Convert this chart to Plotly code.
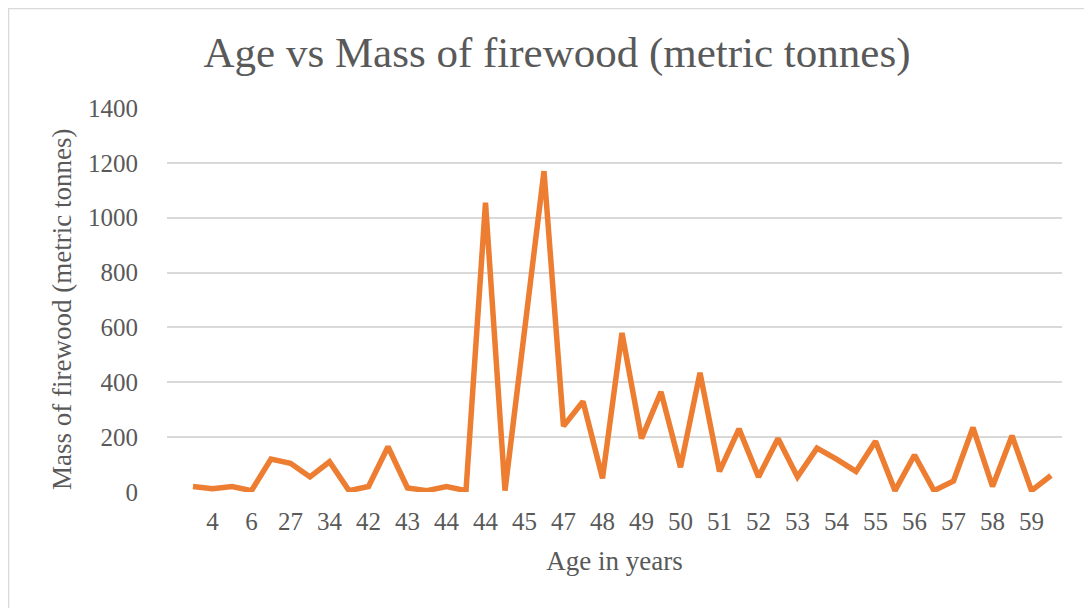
import plotly.graph_objects as go

# Categories (age in years) - every other label is displayed on the axis
ages = [3, 4, 5, 6, 20, 27, 30, 34, 40, 42, 42, 43, 43, 44, 44,
        44, 45, 45, 46, 47, 47, 48, 48, 49, 49, 50, 50, 51, 51, 52,
        52, 53, 53, 54, 54, 55, 55, 56, 56, 57, 57, 58, 58, 59, 59]

# Mass of firewood (metric tonnes)
mass = [20, 12, 20, 5, 120, 105, 55, 110, 5, 20, 165, 15, 5, 20, 5,
        1055, 5, 580, 1170, 240, 330, 50, 580, 195, 365, 90, 435, 75, 230, 55,
        195, 55, 160, 120, 75, 185, 5, 135, 5, 40, 235, 20, 205, 5, 60]

y_ticks = [0, 200, 400, 600, 800, 1000, 1200, 1400]

idx = list(range(len(ages)))
tickvals = idx[1::2]
ticktext = [str(a) for a in ages[1::2]]

FONT = "Liberation Serif, Times New Roman, serif"
GREY = "#595959"

fig = go.Figure()
fig.add_trace(go.Scatter(
    x=idx, y=mass, mode="lines",
    line=dict(color="#ED7D31", width=5.5),
    hoverinfo="y", showlegend=False,
))

OFF = 8  # page body margin
W, H = 1092 - OFF, 608 - OFF
L, R, T, B = 167 - OFF, 30, 108 - OFF, 116
pw, ph = W - L - R, H - T - B

def px2paper_x(px):
    return (px - OFF - L) / pw

def px2paper_y(py):
    return (H - B - (py - OFF)) / ph

x0_px = 193  # first point screen x
step = 19.5

fig.update_layout(
    width=W, height=H,
    margin=dict(l=L, r=R, t=T, b=B),
    paper_bgcolor="white", plot_bgcolor="white",
    font=dict(family=FONT, color=GREY),
    title=dict(
        text="Age vs Mass of firewood (metric tonnes)",
        font=dict(family=FONT, size=43, color=GREY),
        x=(557 - OFF) / W, xanchor="center", xref="container",
        y=1 - (52 - OFF) / H, yanchor="middle", yref="container",
    ),
    xaxis=dict(
        range=[(167 - x0_px) / step, (1062 - x0_px) / step],
        tickmode="array", tickvals=tickvals, ticktext=ticktext,
        tickfont=dict(family=FONT, size=25, color=GREY),
        showgrid=False, zeroline=False, showline=False,
        ticks="", ticklabelstandoff=12,
        title=dict(text="Age in years", font=dict(family=FONT, size=27, color=GREY),
                   standoff=17),
    ),
    yaxis=dict(
        range=[0, 1400],
        tickmode="array", tickvals=y_ticks,
        tickfont=dict(family=FONT, size=25, color=GREY),
        showgrid=True, gridcolor="#D9D9D9", gridwidth=1.5,
        zeroline=False, showline=False, ticks="",
        ticklabelstandoff=28,
    ),
    annotations=[dict(
        text="Mass of firewood (metric tonnes)",
        xref="paper", yref="paper",
        x=px2paper_x(62), y=px2paper_y(310),
        xanchor="center", yanchor="middle", textangle=-90,
        showarrow=False, font=dict(family=FONT, size=27, color=GREY),
    )],
    shapes=[dict(
        type="rect", xref="paper", yref="paper",
        x0=px2paper_x(8.5), x1=px2paper_x(1110),
        y0=px2paper_y(630), y1=px2paper_y(8.5),
        line=dict(color="#D9D9D9", width=1.5), fillcolor="rgba(0,0,0,0)",
        layer="below",
    )],
)

fig.write_html("out.html")
